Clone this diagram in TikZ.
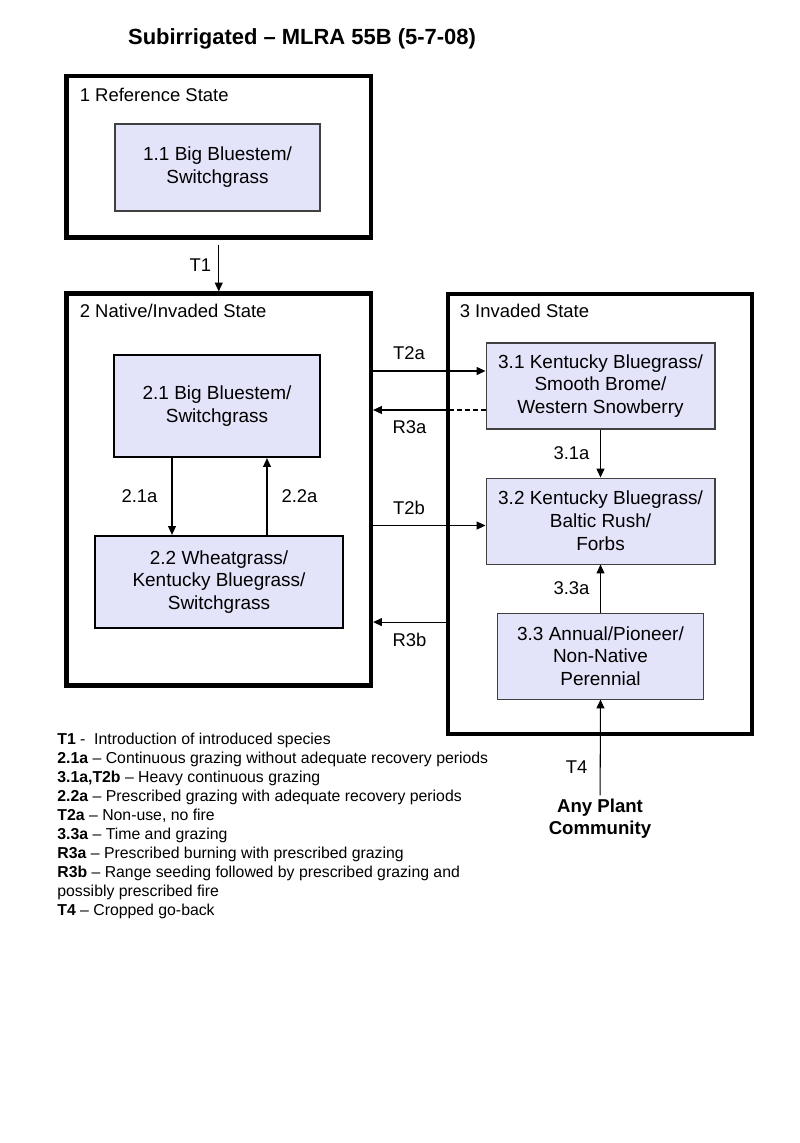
\documentclass[tikz,border=0pt]{standalone}
\usepackage{fontspec}
\setmainfont{Liberation Sans}
\usetikzlibrary{arrows.meta,positioning}
\definecolor{lav}{RGB}{227,227,250}

\begin{document}
\begin{tikzpicture}[
x=0.02cm, y=-0.02cm,
node distance=0.96cm,
    S/.style = {rectangle, draw, line width=2.4pt,% state boxes
                inner sep=0pt},
    C/.style = {rectangle, draw=black!75, fill=lav, line width=0.6pt,% plant communities
                align=center, font=\fontsize{10.8}{13}\selectfont,
                minimum width=4.58cm, minimum height=1.72cm},
   CC/.style = {C, draw=black, line width=1.3pt},
    L/.style = {font=\fontsize{10.5}{12}\selectfont, inner sep=2pt},
  arr/.style = {-{Triangle[length=5pt,width=4.5pt]}, line width=0.6pt},
                        ]
\useasboundingbox (0,0) rectangle (800,1143);
\node[font=\bfseries\fontsize{12.5}{15}\selectfont] (title) at (302,39)
    {Subirrigated – MLRA 55B (5-7-08)};
% states
\node[S, minimum width=6.09cm, minimum height=3.23cm] (s1) at (218.75,156.75) {};
\node[S, minimum width=6.09cm, minimum height=7.84cm] (s2) at (218.75,489.5) {};
\node[S, minimum width=6.08cm, minimum height=8.80cm] (s3) at (600,514) {};
\node[L, anchor=west] (n1) at (76,95) {1 Reference State};
\node[L, anchor=west] (n2) at (76,311) {2 Native/Invaded State};
\node[L, anchor=west] (n3) at (456,311) {3 Invaded State};
% communities
\node[C, minimum width=4.1cm, minimum height=1.74cm] (c11) at (217.5,167.5)
    {1.1 Big Bluestem/\\Switchgrass};
\node[CC, minimum width=4.12cm, minimum height=2.04cm] (c21) at (217,406)
    {2.1 Big Bluestem/\\Switchgrass};
\node[CC, minimum width=4.96cm, minimum height=1.84cm] (c22) at (219,582)
    {2.2 Wheatgrass/\\Kentucky Bluegrass/\\Switchgrass};
\node[C] (c31) at (600.5,386)
    {3.1 Kentucky Bluegrass/\\Smooth Brome/\\Western Snowberry};
\node[C, below=of c31] (c32) {3.2 Kentucky Bluegrass/\\Baltic Rush/\\Forbs};
\node[C, below=of c32, minimum width=4.12cm] (c33) {3.3 Annual/Pioneer/\\Non-Native\\Perennial};
\node[font=\bfseries\fontsize{10.6}{12.5}\selectfont, align=center, inner sep=2pt] (any)
    at (600,819) {Any Plant\\Community};
% transitions
\coordinate (t2a) at ([yshift=0.3cm]c31.west);
\coordinate (r3a) at ([yshift=-0.48cm]c31.west);
\coordinate (t2b) at ([yshift=-0.09cm]c32.west);
\coordinate (r3b) at ([yshift=0.68cm]c33.west);
\draw[arr, shorten <=3pt] (s1.south) -- node[L, left=2pt] {T1} (s2.north);
\draw[arr] ([xshift=-0.9cm]c21.south) -- node[L, left=6pt] {2.1a}
    ([xshift=-0.9cm]c21.south |- c22.north);
\draw[arr] ([xshift=1.0cm]c21.south |- c22.north) -- node[L, right=6pt] {2.2a}
    ([xshift=1.0cm]c21.south);
\draw[arr] (s2.east |- t2a) -- node[L, above=4pt, pos=0.32] {T2a} (t2a);
\draw[line width=0.6pt, dash pattern=on 2.5pt off 2pt] (r3a) -- (s3.west |- r3a);
\draw[arr] (s3.west |- r3a) -- node[L, below=4pt] {R3a} (s2.east |- r3a);
\draw[arr] (s2.east |- t2b) -- node[L, above=4pt, pos=0.32] {T2b} (t2b);
\draw[arr] (s3.west |- r3b) -- node[L, below=4pt] {R3b} (s2.east |- r3b);
\draw[arr] (c31.south) -- node[L, left=4pt] {3.1a} (c32.north);
\draw[arr] (c33.north) -- node[L, left=4pt] {3.3a} (c32.south);
\draw[arr] (any) -- node[L, left=5pt, pos=0.3] {T4} (c33.south);
% key
\node[anchor=north west, align=left, inner sep=0pt,
      font=\fontsize{9}{10.8}\selectfont] (key) at (57,733)
    {\textbf{T1} -\ \ Introduction of introduced species\\
     \textbf{2.1a} – Continuous grazing without adequate recovery periods\\
     \textbf{3.1a,T2b} – Heavy continuous grazing\\
     \textbf{2.2a} – Prescribed grazing with adequate recovery periods\\
     \textbf{T2a} – Non-use, no fire\\
     \textbf{3.3a} – Time and grazing\\
     \textbf{R3a} – Prescribed burning with prescribed grazing\\
     \textbf{R3b} – Range seeding followed by prescribed grazing and\\
     possibly prescribed fire\\
     \textbf{T4} – Cropped go-back};
\end{tikzpicture}
\end{document}
